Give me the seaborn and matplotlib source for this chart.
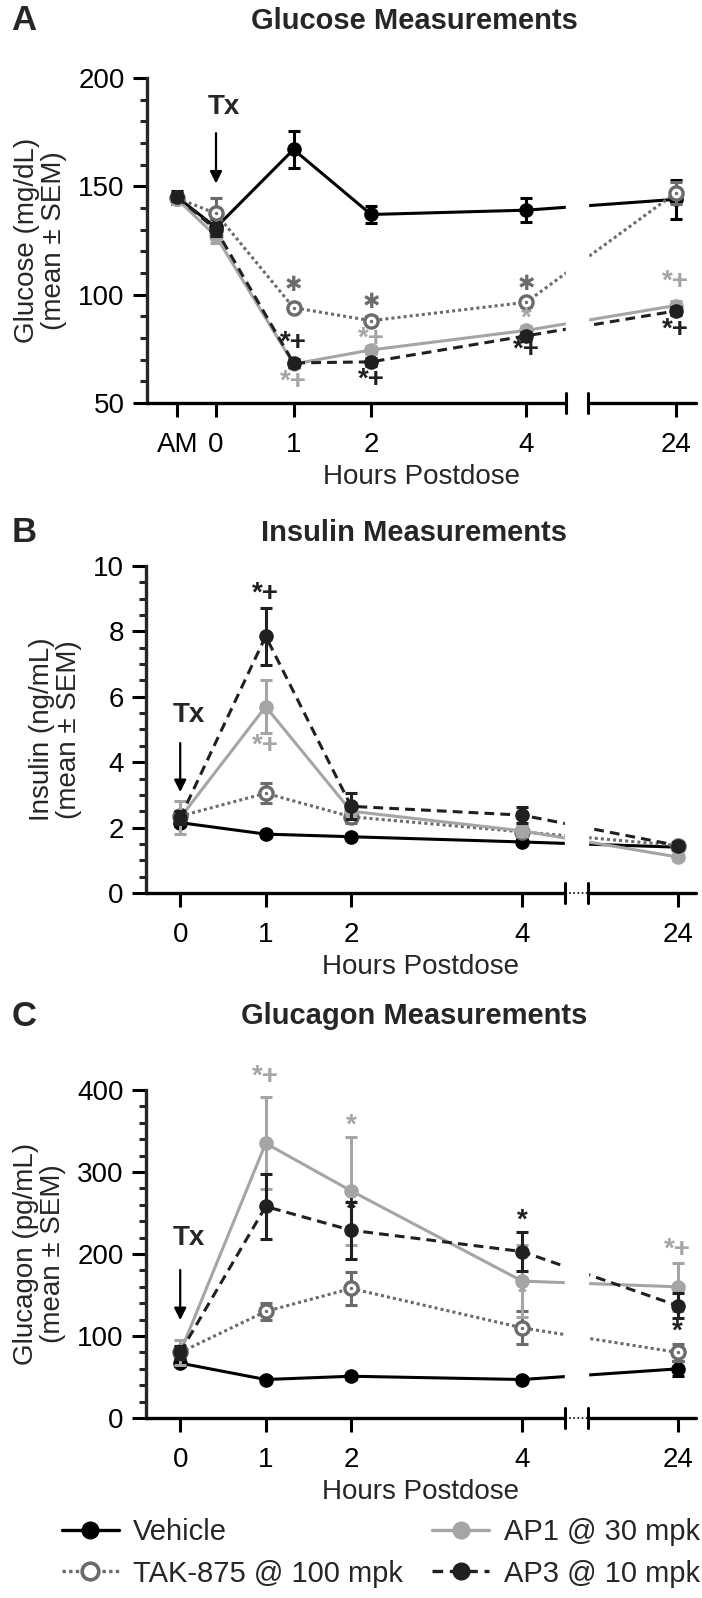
import matplotlib
matplotlib.use("Agg")
import matplotlib.pyplot as plt
from matplotlib.lines import Line2D
from matplotlib.ticker import MultipleLocator
import pandas as pd
import seaborn as sns

sns.set_theme(style="ticks")
plt.rcParams['font.family'] = ['Liberation Sans', 'DejaVu Sans']

groups = ["Vehicle", "TAK-875 @ 100 mpk", "AP1 @ 30 mpk", "AP3 @ 10 mpk"]

# --- Glucose (mg/dL) ---
glu_times = ["AM", "0", "1", "2", "4", "24"]
glu_vehicle = [145, 131, 167, 137, 139, 144]
glu_vehicle_sem = [3, 4, 8.5, 4, 5.5, 9]
glu_tak = [144.5, 137.5, 94, 88, 96.5, 147]
glu_tak_sem = [2, 7, 2, 2, 2, 5]
glu_ap1 = [144, 127, 68, 74.5, 83.5, 95]
glu_ap1_sem = [2, 3, 2, 2, 2, 2]
glu_ap3 = [145, 130, 68.5, 69, 81, 92.5]
glu_ap3_sem = [2, 3, 2, 2, 2, 2]

# --- Insulin (ng/mL) ---
ins_times = ["0", "1", "2", "4", "24"]
ins_vehicle = [2.15, 1.8, 1.72, 1.56, 1.4]
ins_vehicle_sem = [0.1, 0.08, 0.07, 0.07, 0.07]
ins_tak = [2.35, 3.05, 2.33, 1.87, 1.45]
ins_tak_sem = [0.15, 0.3, 0.2, 0.15, 0.1]
ins_ap1 = [2.3, 5.7, 2.5, 1.9, 1.1]
ins_ap1_sem = [0.5, 0.82, 0.25, 0.15, 0.08]
ins_ap3 = [2.3, 7.85, 2.65, 2.38, 1.45]
ins_ap3_sem = [0.2, 0.87, 0.4, 0.25, 0.1]

# --- Glucagon (pg/mL) ---
gcg_times = ["0", "1", "2", "4", "24"]
gcg_vehicle = [67, 47, 51, 47, 60]
gcg_vehicle_sem = [4, 3, 3, 3, 9]
gcg_tak = [80, 130, 158, 110, 80]
gcg_tak_sem = [8, 10, 20, 20, 10]
gcg_ap1 = [80, 335, 277, 167, 160]
gcg_ap1_sem = [15, 56, 66, 44, 29]
gcg_ap3 = [80, 258, 229, 203, 137]
gcg_ap3_sem = [8, 40, 35, 24, 15]

# significance marks: (time, y, text, group)
glu_marks = [("1", 77.6, "*+", 3), ("1", 59.7, "*+", 2), ("2", 79.5, "*+", 2), ("2", 60.6, "*+", 3),
             ("4", 89, "*", 2), ("4", 74.4, "*+", 3), ("24", 106, "*+", 2), ("24", 83.6, "*+", 3),
             ("1", 104.5, "\u2731", 1), ("2", 96.6, "\u2731", 1), ("4", 105, "\u2731", 1)]
ins_marks = [("1", 9.15, "*+", 3), ("1", 4.5, "*+", 2)]
gcg_marks = [("1", 416, "*+", 2), ("2", 357, "*", 2), ("2", 254, "*", 3), ("4", 241, "*", 3),
             ("4", 152, "*", 2), ("24", 205, "*+", 2), ("24", 105, "*", 3)]

colors = ["#000000", "#6b6b6b", "#a5a5a5", "#202020"]
styles = ["-", (0, (1, 1)), "-", (0, (3.2, 2))]
faces = ["#000000", "white", "#a5a5a5", "#202020"]
draw_order = [1, 2, 3, 0]

fig = plt.figure(figsize=(7.02, 15.98), dpi=100)
H = 1598.0


def panel(rect, times, series, sems, pos, xlim, ylim, major, minor, brk, dotted,
          ylabel, title, title_y, letter, marks, tx):
    ax = fig.add_axes(rect)
    x = [pos[t] for t in times]
    for g in draw_order:
        df = pd.DataFrame({"x": x, "y": series[g]})
        ax.errorbar(x, series[g], yerr=sems[g], fmt="none", ecolor=colors[g],
                    elinewidth=2.2, capsize=4.5, capthick=2.2, zorder=3 + g * 0.1)
        sns.lineplot(data=df, x="x", y="y", ax=ax, color=colors[g], linestyle=styles[g],
                     linewidth=2.2, marker="o", markersize=9.5, markerfacecolor=faces[g],
                     markeredgecolor=colors[g], markeredgewidth=2.4 if g == 1 else 1,
                     sort=False, zorder=3 + g * 0.1)
        if g == 1:
            # small centre dot of the open TAK-875 markers
            sns.scatterplot(data=df, x="x", y="y", ax=ax, color=colors[g], s=6,
                            linewidth=0, zorder=3.2)
    ax.set_xlim(*xlim)
    ax.set_ylim(*ylim)
    ax.set_xticks(x)
    ax.set_xticklabels(times)
    ax.yaxis.set_major_locator(MultipleLocator(major))
    ax.yaxis.set_minor_locator(MultipleLocator(minor))
    ax.tick_params(axis="both", labelsize=20, width=2.2, colors="black")
    ax.tick_params(axis="y", which="major", length=10, pad=6)
    ax.tick_params(axis="y", which="minor", length=5, width=2.2)
    ax.tick_params(axis="x", length=10, pad=11)
    ax.set_xlabel("Hours Postdose", fontsize=20, labelpad=4)
    ax.set_ylabel(ylabel, fontsize=20, labelpad=8, linespacing=1.05)
    sns.despine(ax=ax)
    ax.spines["left"].set_linewidth(2.4)
    ax.spines["bottom"].set_visible(False)
    # axis break
    ax.axvspan(brk[0], brk[1], ymin=0.015, color="white", zorder=5)
    tr = ax.get_xaxis_transform()
    ax.plot([xlim[0], brk[0]], [0, 0], color="black", lw=2.4, transform=tr, clip_on=False, zorder=6)
    ax.plot([brk[1], xlim[1]], [0, 0], color="black", lw=2.4, transform=tr, clip_on=False, zorder=6)
    for b in brk:
        ax.plot([b, b], [-0.03, 0.03], color="black", lw=2.2, transform=tr, clip_on=False, zorder=6)
    if dotted:
        ax.plot(brk, [0, 0], color="black", lw=1.2, ls=(0, (1, 1.5)), transform=tr, clip_on=False, zorder=6)
    for t, yv, s, g in marks:
        fam = ["DejaVu Sans"] if s == "\u2731" else None
        ax.text(pos[t], yv, s, color=colors[g], fontsize=15 if fam else 20, fontweight="bold",
                ha="center", va="center", family=fam, clip_on=False, zorder=7)
    # treatment arrow
    ax.annotate("", xy=(0, tx[1]), xytext=(0, tx[0]),
                arrowprops=dict(arrowstyle="-|>", color="black", lw=1.6, mutation_scale=18))
    ax.text(0.1, tx[2], "Tx", fontsize=20, fontweight="bold", ha="center", va="center")
    fig.text(0.59, 1 - title_y / H, title, fontsize=21, fontweight="bold", ha="center", va="center")
    fig.text(0.034, 1 - title_y / H, letter, fontsize=25, fontweight="bold", ha="center", va="center")
    return ax


pos_a = {"AM": -0.5, "0": 0, "1": 1, "2": 2, "4": 4, "24": 5.93}
pos_bc = {"0": 0, "1": 1, "2": 2, "4": 4, "24": 5.82}

panel([0.2094, 0.7478, 0.782, 0.2034], glu_times,
      [glu_vehicle, glu_tak, glu_ap1, glu_ap3],
      [glu_vehicle_sem, glu_tak_sem, glu_ap1_sem, glu_ap3_sem],
      pos_a, (-0.89, 6.19), (50, 200), 50, 10, (4.52, 4.8), False,
      "Glucose (mg/dL)\n(mean \u00b1 SEM)", "Glucose Measurements", 21, "A", glu_marks,
      (175.8, 150, 186.4))

panel([0.2080, 0.4412, 0.783, 0.2046], ins_times,
      [ins_vehicle, ins_tak, ins_ap1, ins_ap3],
      [ins_vehicle_sem, ins_tak_sem, ins_ap1_sem, ins_ap3_sem],
      pos_bc, (-0.4, 6.03), (0, 10), 2, 0.5, (4.5, 4.77), True,
      "Insulin (ng/mL)\n(mean \u00b1 SEM)", "Insulin Measurements", 533, "B", ins_marks,
      (4.67, 3.0, 5.43))

panel([0.2080, 0.1126, 0.783, 0.2053], gcg_times,
      [gcg_vehicle, gcg_tak, gcg_ap1, gcg_ap3],
      [gcg_vehicle_sem, gcg_tak_sem, gcg_ap1_sem, gcg_ap3_sem],
      pos_bc, (-0.4, 6.03), (0, 400), 100, 20, (4.5, 4.77), True,
      "Glucagon (pg/mL)\n(mean \u00b1 SEM)", "Glucagon Measurements", 1016, "C", gcg_marks,
      (184, 116, 219.5))

handles = [Line2D([0], [0], color=colors[g], linestyle=styles[g], lw=2.4, marker="o",
                  markersize=12, markerfacecolor=faces[g], markeredgecolor=colors[g],
                  markeredgewidth=2.6 if g == 1 else 1) for g in range(4)]
fig.legend(handles, groups, loc="center left", bbox_to_anchor=(0.088, 1 - 1553 / H), ncol=2,
           frameon=False, fontsize=21, handlelength=1.95, handletextpad=0.5,
           columnspacing=1.0, labelspacing=0.45, borderpad=0, borderaxespad=0)

fig.savefig("out.png", dpi=100)
